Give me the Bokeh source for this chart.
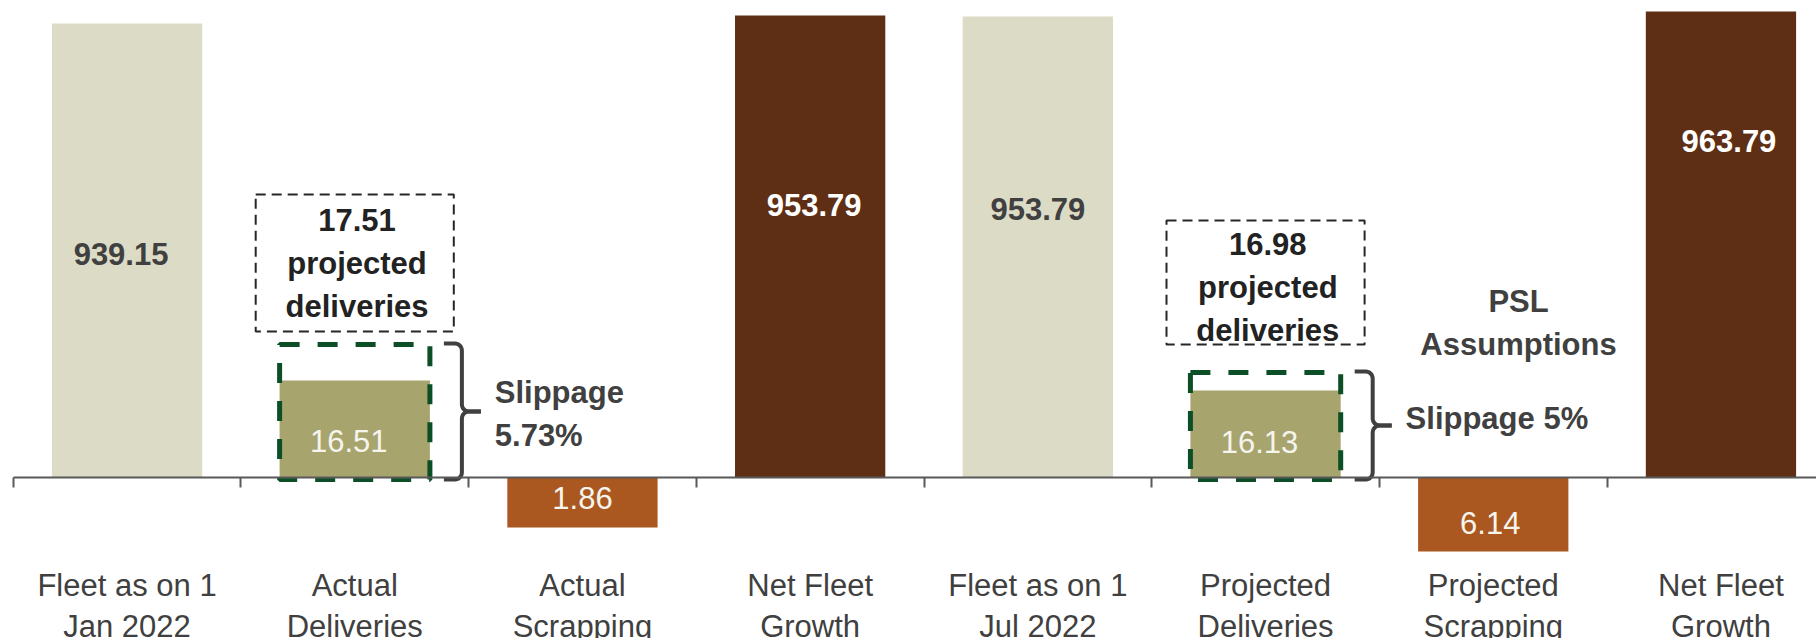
import math
from bokeh.plotting import figure
from bokeh.models import Range1d, LinearAxis, FixedTicker, ColumnDataSource
from bokeh.core.properties import value
from bokeh.embed import file_html
from bokeh.resources import INLINE

# ---------------- data ----------------
categories = ["Fleet as on 1\nJan 2022", "Actual\nDeliveries", "Actual\nScrapping", "Net Fleet\nGrowth",
              "Fleet as on 1\nJul 2022", "Projected\nDeliveries", "Projected\nScrapping", "Net Fleet\nGrowth"]
values = [939.15, 16.51, -1.86, 953.79, 953.79, 16.13, -6.14, 963.79]
# bar lengths as drawn in the source chart (it is not to scale)
shown = [454, 97, -50, 462, 461, 87, -74, 466]
kinds = ["fleet", "delivery", "scrap", "net", "fleet", "delivery", "scrap", "net"]
proj_index = [1, 5]
proj_values = [17.51, 16.98]
proj_shown = [133, 105]
slippage_text = ["Slippage\n5.73%", "Slippage 5%"]
note_text = "PSL\nAssumptions"

# ---------------- styles / layout ----------------
FONT = value("Liberation Sans")
FS = "31px"
colors = {"fleet": "#DCDBC6", "delivery": "#A8A46E", "scrap": "#AA5820", "net": "#5E2F15"}
label_colors = {"fleet": "#404040", "delivery": "#F5F5EE", "scrap": "#F5F5EE", "net": "#FFFFFF"}
label_bold = {"fleet": True, "delivery": False, "scrap": False, "net": True}
label_y = [224, 37, -20, 273, 269, 36, -45, 337]
label_dx = [-6, -6, 0, 4, 0, -6, -3, 8]
callout_bottom = [146, 133]
callout_top = [283, 257]
callout_text_y = [214, 190]
slip_y = [63.5, 59.5]

W, H = 1816, 638
PX = 227.7
x0 = -0.5 - 12.7 / PX
BW = 0.66

p = figure(width=W, height=H, x_range=Range1d(x0, x0 + W / PX), y_range=Range1d(477 - H, 477),
           output_backend="svg", toolbar_location=None,
           x_axis_location=None, y_axis_location=None, min_border=0)
p.outline_line_color = None
p.xgrid.visible = False
p.ygrid.visible = False
p.background_fill_color = "white"
p.border_fill_color = "white"

idx = list(range(len(categories)))
src = ColumnDataSource(dict(x=idx, top=shown, color=[colors[k] for k in kinds]))
p.vbar(x="x", top="top", bottom=0, width=BW, fill_color="color", line_color=None, source=src)

# value labels
for bold in (True, False):
    sel = [i for i in idx if label_bold[kinds[i]] == bold]
    p.text(x=[i + label_dx[i] / PX for i in sel], y=[label_y[i] for i in sel],
           text=[f"{abs(values[i]):.2f}" for i in sel],
           text_color=[label_colors[kinds[i]] for i in sel],
           text_font=FONT, text_font_size=FS, text_font_style="bold" if bold else "normal",
           text_align="center", text_baseline="middle")

# projected delivery boxes (green dashed)
p.quad(left=[i - BW / 2 for i in proj_index], right=[i + BW / 2 for i in proj_index],
       bottom=-2, top=proj_shown, fill_color=None, line_color="#0C4F27", line_width=5,
       line_dash="20 18")

# callout boxes
p.quad(left=[i - 0.435 for i in proj_index], right=[i + 0.435 for i in proj_index],
       bottom=callout_bottom, top=callout_top, fill_color=None, line_color="#262626",
       line_width=2, line_dash="10 6")
p.text(x=[i + 0.01 for i in proj_index], y=callout_text_y,
       text=[f"{v:.2f}\nprojected\ndeliveries" for v in proj_values],
       text_color="#222222", text_font=FONT, text_font_size=FS, text_font_style="bold",
       text_align="center", text_baseline="middle", text_line_height=1.225)

# braces
def brace(i, y0, y1):
    u = 1.0 / PX
    xl = i + BW / 2 + 14 * u
    xv = i + BW / 2 + 32 * u
    xt = i + BW / 2 + 51 * u
    ym = (y0 + y1) / 2
    r = 7
    xs_all, ys_all = [], []
    for yend, s in ((y0, 1), (y1, -1)):
        xs = [xl]
        ys = [yend]
        for k in range(0, 7):
            a = math.pi / 2 * k / 6
            xs.append(xv - r * u + r * u * math.sin(a))
            ys.append(yend + s * (r - r * math.cos(a)))
        for k in range(0, 7):
            a = math.pi / 2 * k / 6
            xs.append(xv + r * u - r * u * math.cos(a))
            ys.append(ym - s * r + s * r * math.sin(a))
        xs.append(xt)
        ys.append(ym)
        xs_all.append(xs)
        ys_all.append(ys)
    return xs_all, ys_all

bx, by = [], []
for i, ps in zip(proj_index, proj_shown):
    xs, ys = brace(i, -2, ps + 1)
    bx += xs
    by += ys
p.multi_line(xs=bx, ys=by, line_color="#404040", line_width=4, line_join="round", line_cap="butt")

# slippage texts
p.text(x=[i + 0.615 for i in proj_index], y=slip_y, text=slippage_text,
       text_color="#404040", text_font=FONT, text_font_size=FS, text_font_style="bold",
       text_align="left", text_baseline="middle", text_line_height=1.25)

p.text(x=[6.111], y=[154.5], text=[note_text],
       text_color="#404040", text_font=FONT, text_font_size=FS, text_font_style="bold",
       text_align="center", text_baseline="middle", text_line_height=1.23)

# baseline axis with ticks at category boundaries
tick_axis = LinearAxis(fixed_location=0, ticker=FixedTicker(ticks=[k - 0.5 for k in range(len(categories) + 1)], minor_ticks=[]),
                       bounds=(-0.5, len(categories)),
                       axis_line_color="#595959", axis_line_width=2,
                       major_tick_line_color="#595959", major_tick_line_width=2,
                       major_tick_out=10, major_tick_in=0, minor_tick_line_color=None,
                       major_label_text_font_size="0px",
                       major_label_overrides={k - 0.5: "" for k in range(len(categories) + 1)})
p.add_layout(tick_axis, "below")

# category labels axis
label_axis = LinearAxis(fixed_location=0, ticker=FixedTicker(ticks=idx, minor_ticks=[]),
                        axis_line_color=None, major_tick_line_color=None, minor_tick_line_color=None,
                        major_tick_out=0, major_tick_in=0, major_label_standoff=90,
                        major_label_text_font="Liberation Sans", major_label_text_font_size=FS,
                        major_label_text_color="#404040", major_label_text_line_height=1.18,
                        major_label_overrides={i: c for i, c in zip(idx, categories)})
p.add_layout(label_axis, "below")

open("out.html", "w").write(file_html(p, INLINE))
